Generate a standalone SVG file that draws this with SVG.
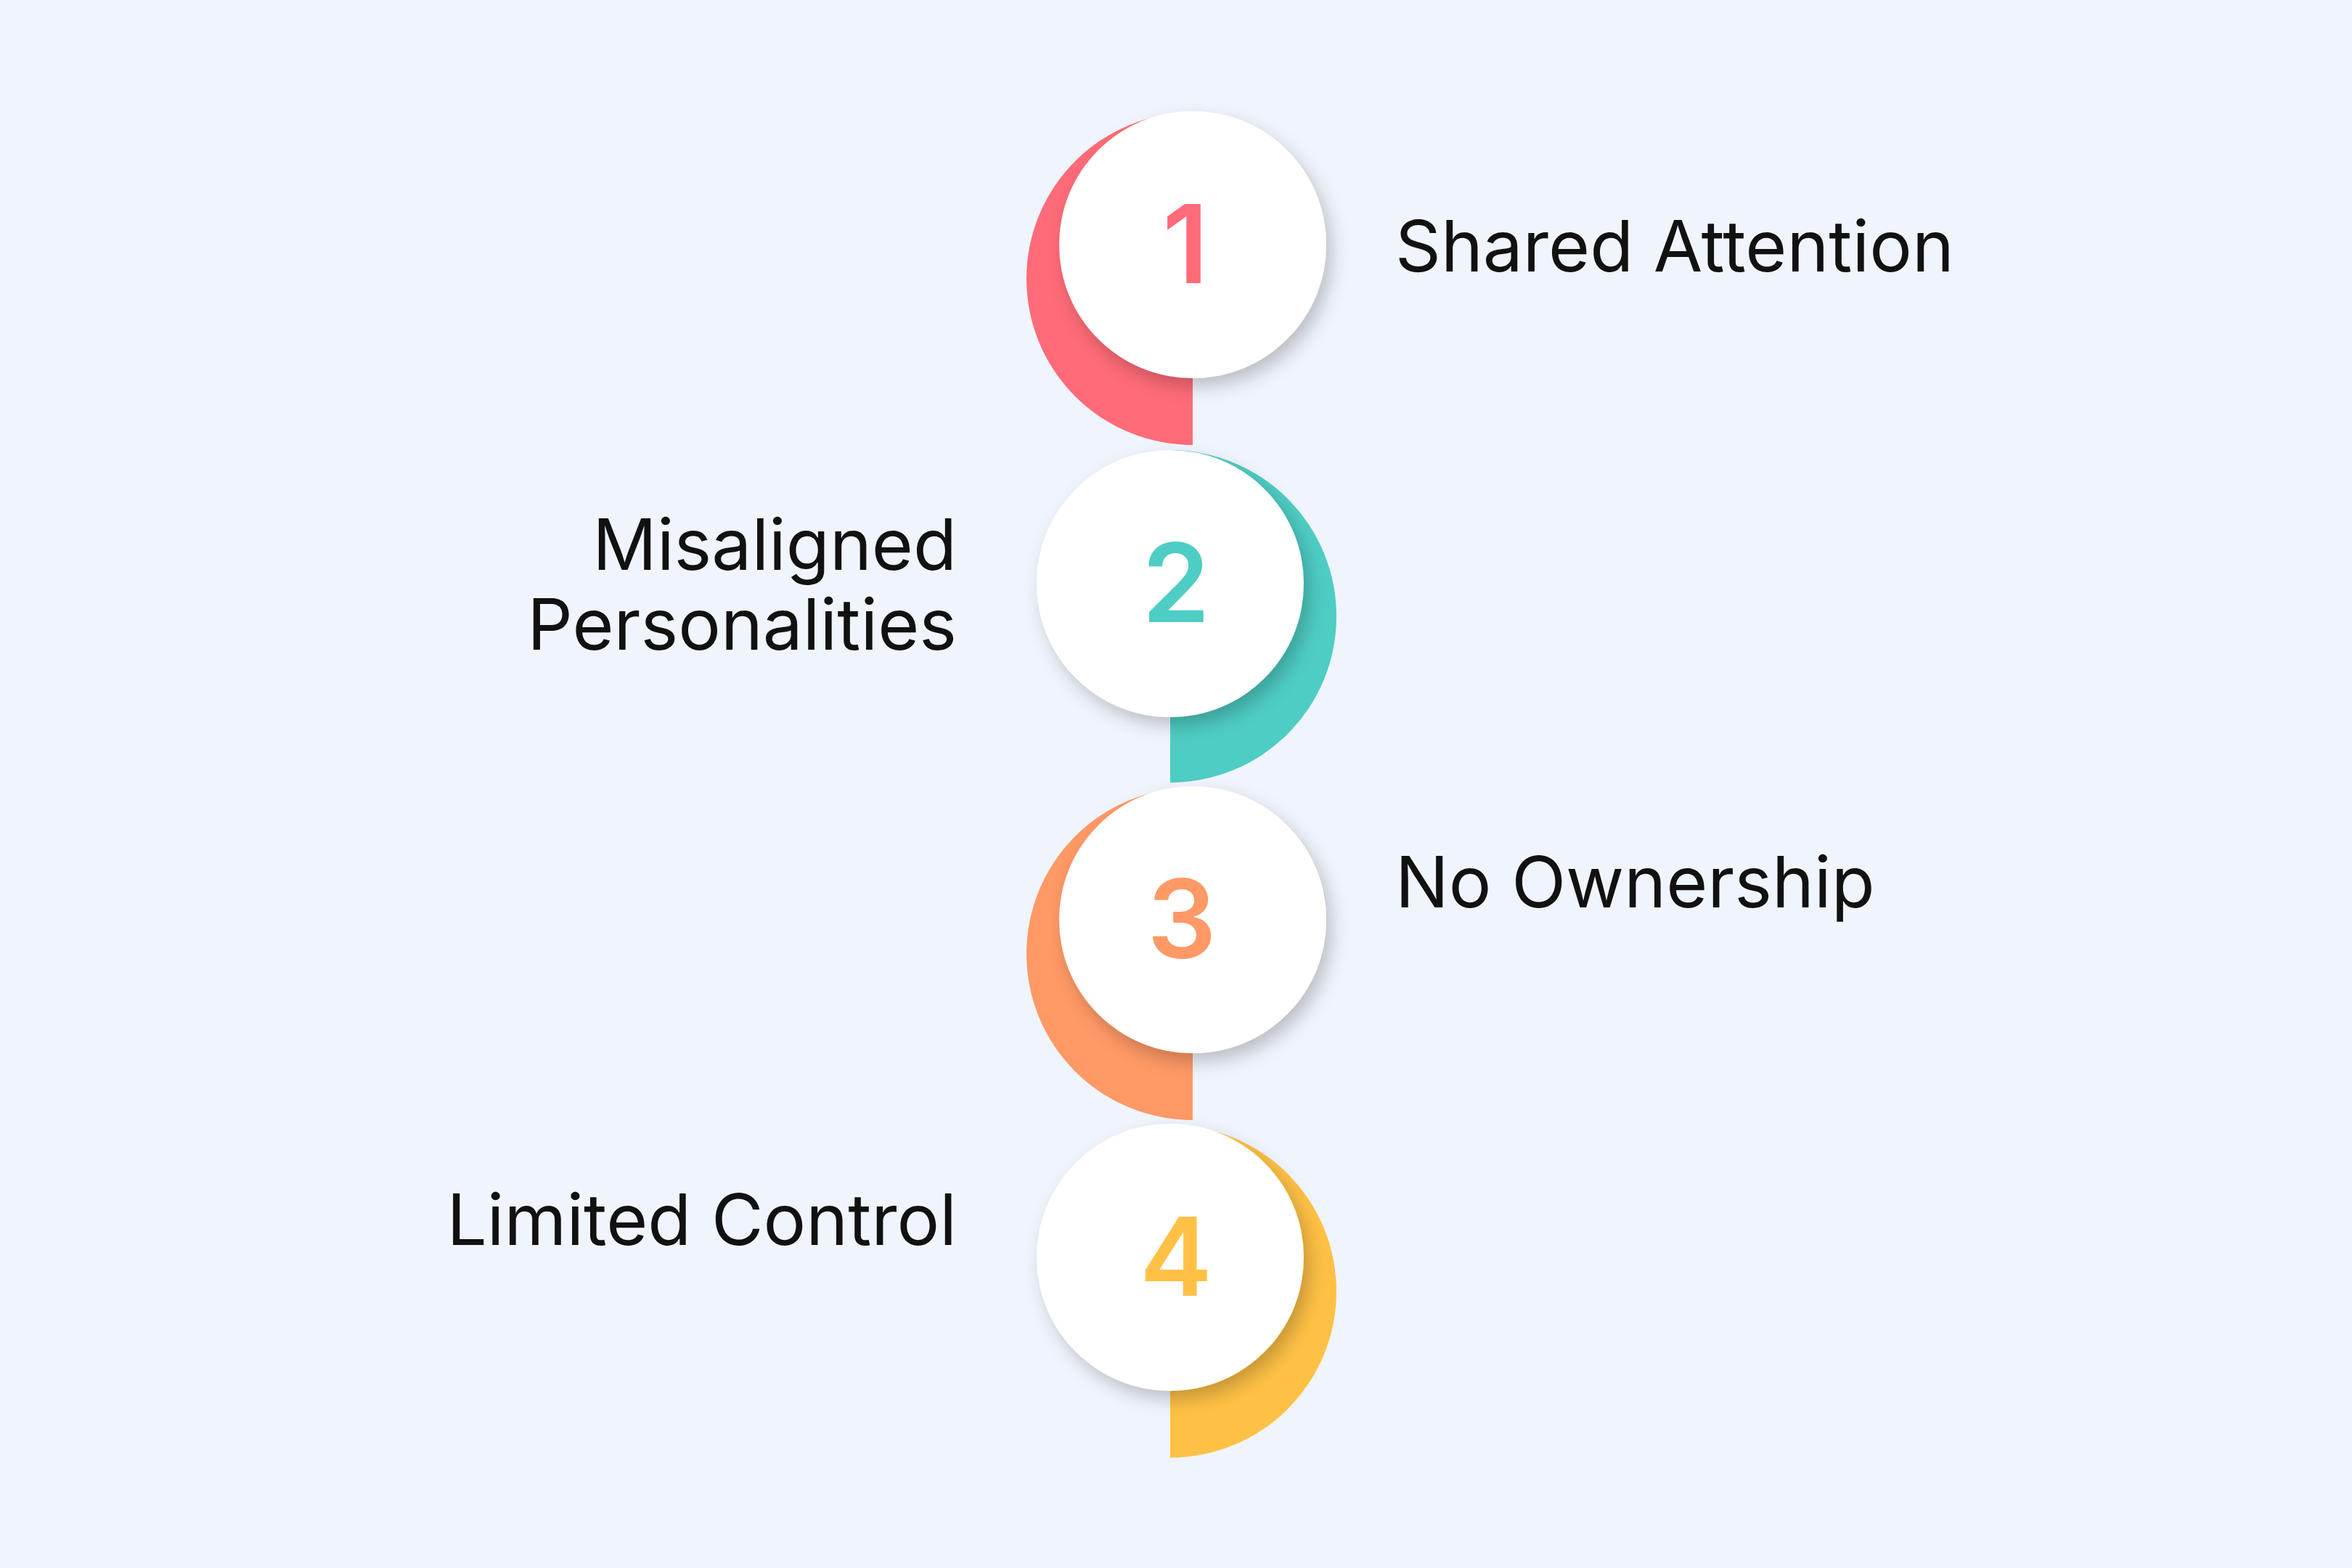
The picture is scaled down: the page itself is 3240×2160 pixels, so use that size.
<svg xmlns="http://www.w3.org/2000/svg" width="3240" height="2160" viewBox="0 0 3240 2160">
<defs>
<style>
.lbl{font-family:Inter,"Liberation Sans",sans-serif;font-size:98px;fill:#111;}
.num{font-family:Inter,"Liberation Sans",sans-serif;font-size:150px;font-weight:600;text-anchor:middle;}
.w{fill:#fff;filter:url(#sh);}
</style>
<filter id="sh" x="-30%" y="-30%" width="160%" height="160%">
<feDropShadow dx="8" dy="12" stdDeviation="12" flood-color="#000" flood-opacity="0.22"/>
</filter>
</defs>
<rect width="3240" height="2160" fill="#F0F5FD"/>
<g id="node1">
<path d="M1643 155 A229 229 0 0 0 1643 613 Z" fill="#FF6B78"/>
<circle class="w" cx="1643" cy="337" r="184"/>
<text class="num" x="1633" y="390" fill="#FF6B78">1</text>
<text class="lbl" x="1922" y="374">Shared Attention</text>
</g>
<g id="node2">
<path d="M1612 620 A229 229 0 0 1 1612 1078 Z" fill="#4ECDC4"/>
<circle class="w" cx="1612" cy="804" r="184"/>
<text class="num" x="1620" y="857" fill="#4ECDC4">2</text>
<text class="lbl" x="1318" y="785" text-anchor="end">Misaligned</text>
<text class="lbl" x="1318" y="895" text-anchor="end">Personalities</text>
</g>
<g id="node3">
<path d="M1643 1085 A229 229 0 0 0 1643 1543 Z" fill="#FF9966"/>
<circle class="w" cx="1643" cy="1267" r="184"/>
<text class="num" x="1628" y="1320" fill="#FF9966">3</text>
<text class="lbl" x="1922" y="1250">No Ownership</text>
</g>
<g id="node4">
<path d="M1612 1550 A229 229 0 0 1 1612 2008 Z" fill="#FFC145"/>
<circle class="w" cx="1612" cy="1732" r="184"/>
<text class="num" x="1620" y="1785" fill="#FFC145">4</text>
<text class="lbl" x="1318" y="1715" text-anchor="end">Limited Control</text>
</g>
<g id="connectors"></g>
</svg>
